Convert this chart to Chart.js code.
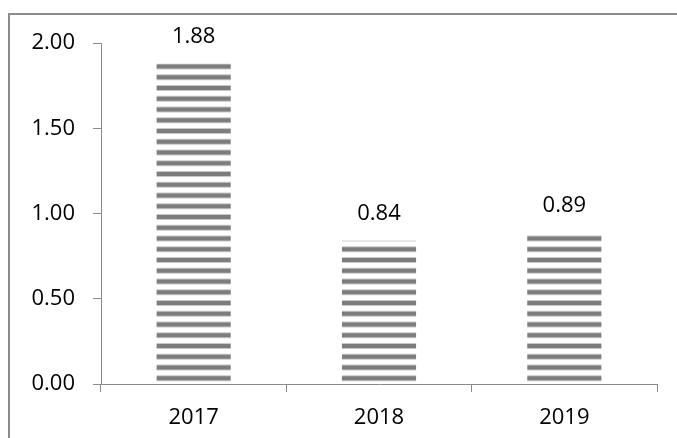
<!DOCTYPE html>
<html>
<head>
<meta charset="utf-8">
<script src="https://cdn.jsdelivr.net/npm/chart.js@4/dist/chart.umd.min.js"></script>
<style>
  html, body { margin: 0; padding: 0; background: #fff; overflow: hidden; }
  canvas { display: block; }
</style>
</head>
<body>
<canvas id="chart" width="677" height="438"></canvas>
<script>
var years = ['2017', '2018', '2019'];
var values = [1.88, 0.84, 0.89];
var yTicks = [0, 0.5, 1, 1.5, 2];

var FONT = { family: "'Open Sans', sans-serif", size: 22 };
var AXIS = '#8a8a8a';

// horizontal stripe fill, aligned to the canvas like the original
function stripes() {
  var c = document.createElement('canvas');
  c.width = 8; c.height = 43;
  var g = c.getContext('2d');
  g.fillStyle = '#fff';
  g.fillRect(0, 0, 8, 43);
  for (var k = 0; k < 4; k++) {
    var y = (21 + k * 10.75) % 43;
    [y, y - 43].forEach(function (yy) {
      g.fillStyle = '#c8c8c8';
      g.fillRect(0, yy - 0.5, 8, 6);
      g.fillStyle = '#7d7d7d';
      g.fillRect(0, yy + 0.5, 8, 4);
    });
  }
  return document.getElementById('chart').getContext('2d').createPattern(c, 'repeat');
}

var frame = {
  id: 'frame',
  beforeDraw: function (chart) {
    var ctx = chart.ctx;
    ctx.save();
    ctx.strokeStyle = '#8c8c8c';
    ctx.lineWidth = 2;
    ctx.strokeRect(9, 14, 700, 500);
    ctx.restore();
  }
};

var valueLabels = {
  id: 'valueLabels',
  afterDatasetsDraw: function (chart) {
    var ctx = chart.ctx;
    var meta = chart.getDatasetMeta(0);
    ctx.save();
    ctx.font = FONT.size + 'px ' + FONT.family;
    ctx.fillStyle = '#000';
    ctx.textAlign = 'center';
    ctx.textBaseline = 'middle';
    meta.data.forEach(function (bar, i) {
      ctx.fillText(values[i].toFixed(2), bar.x, bar.y - 27);
    });
    ctx.restore();
  }
};

var config = {
  type: 'bar',
  data: {
    labels: years,
    datasets: [{
      data: values,
      backgroundColor: stripes(),
      borderWidth: 0,
      barPercentage: 0.4,
      categoryPercentage: 1
    }]
  },
  options: {
    responsive: false,
    animation: false,
    devicePixelRatio: 1,
    layout: { padding: { top: 43, right: 20, left: 0, bottom: 0 } },
    plugins: {
      legend: { display: false },
      tooltip: { enabled: false }
    },
    scales: {
      x: {
        offset: true,
        grid: { offset: true, drawOnChartArea: false, drawTicks: true, tickLength: 8, color: AXIS },
        border: { color: AXIS, width: 1 },
        ticks: { color: '#000', font: FONT, padding: 13 },
        afterFit: function (s) { s.height = 54; }
      },
      y: {
        min: 0,
        max: 2,
        afterBuildTicks: function (s) { s.ticks = yTicks.map(function (v) { return { value: v }; }); },
        grid: { drawOnChartArea: false, drawTicks: true, tickLength: 8, color: AXIS },
        border: { color: AXIS, width: 1 },
        ticks: {
          color: '#000',
          font: FONT,
          padding: 18,
          callback: function (v) { return Number(v).toFixed(2); }
        },
        afterFit: function (s) { s.width = 101; }
      }
    }
  },
  plugins: [frame, valueLabels]
};

window.onload = function () {
  var ctx = document.getElementById('chart').getContext('2d');
  window.myChart = new Chart(ctx, config);
};
</script>
</body>
</html>
